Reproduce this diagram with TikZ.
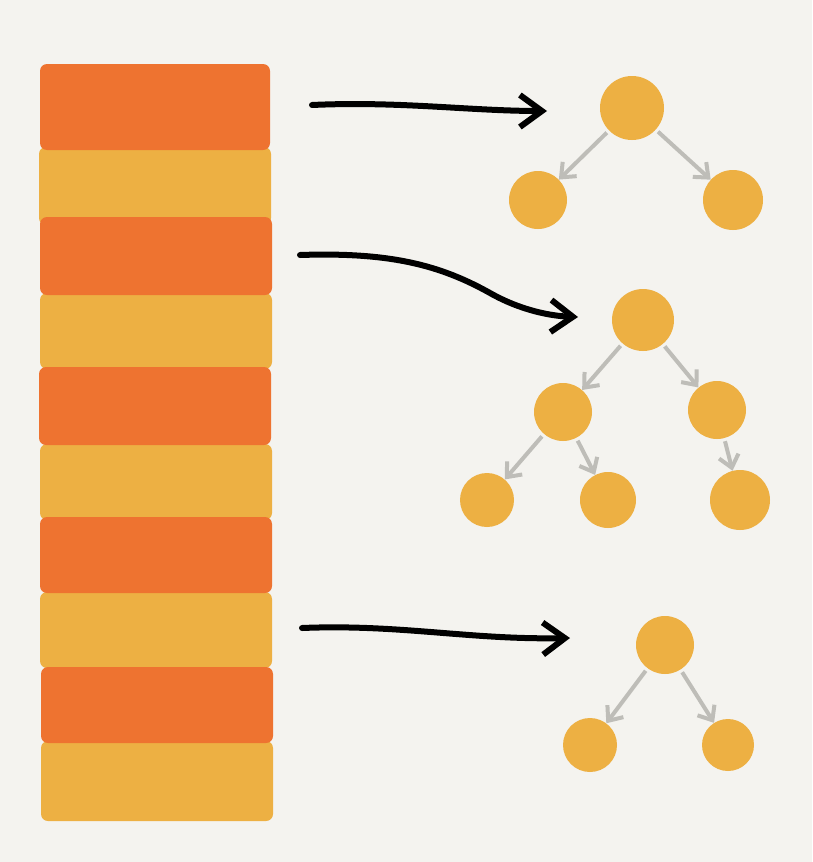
\documentclass[tikz,border=0pt]{standalone}
\usetikzlibrary{arrows.meta}
\definecolor{bg}{HTML}{F4F3EF}
\definecolor{org}{HTML}{EE7330}
\definecolor{yel}{HTML}{EDB043}
\definecolor{edgegray}{HTML}{BEBDB8}
\tikzset{
  stripe/.style={rectangle, rounded corners=7pt, inner sep=0pt, minimum width=232pt},
  ostripe/.style={stripe, fill=org, minimum height=80pt},
  ystripe/.style={stripe, fill=yel, minimum height=76pt},
  dot/.style={circle, fill=yel, inner sep=0pt},
  bigarrow/.style={line width=6pt, line cap=round, black, -{Straight Barb[length=22pt,width=32pt,line width=6pt]}},
  treearrow/.style={line width=4pt, edgegray, shorten <=3pt, -{Straight Barb[length=12pt,width=20pt,line width=4pt]}}
}
\begin{document}
\begin{tikzpicture}[x=1pt,y=-1pt]
\fill[bg] (0,0) rectangle (812,862);
\useasboundingbox (0,0) rectangle (812,862);
% stripes (yellow first, orange on top)
\node[ystripe, minimum height=78pt] (y1) at (155,186) {};
\node[ystripe] (y2) at (156,331) {};
\node[ystripe] (y3) at (156,482) {};
\node[ystripe] (y4) at (156,630) {};
\node[ystripe, minimum height=80pt] (y5) at (157,781) {};
\node[ostripe, minimum height=86pt, minimum width=230pt] (o1) at (155,107) {};
\node[ostripe, minimum height=78pt] (o2) at (156,256) {};
\node[ostripe, minimum height=78pt] (o3) at (155,406) {};
\node[ostripe, minimum height=76pt] (o4) at (156,555) {};
\node[ostripe, minimum height=76pt] (o5) at (157,705) {};
% tree 1
\node[dot, minimum size=64pt] (a) at (632,108) {};
\node[dot, minimum size=58pt] (a1) at (538,200) {};
\node[dot, minimum size=60pt] (a2) at (733,200) {};
% tree 2
\node[dot, minimum size=62pt] (b) at (643,320) {};
\node[dot, minimum size=58pt] (b1) at (563,412) {};
\node[dot, minimum size=58pt] (b2) at (717,410) {};
\node[dot, minimum size=54pt] (b11) at (487,500) {};
\node[dot, minimum size=56pt] (b12) at (608,500) {};
\node[dot, minimum size=60pt] (b21) at (740,500) {};
% tree 3
\node[dot, minimum size=58pt] (c) at (665,645) {};
\node[dot, minimum size=54pt] (c1) at (590,745) {};
\node[dot, minimum size=52pt] (c2) at (728,745) {};
% tree edges
\draw[treearrow] (a) -- (a1);
\draw[treearrow] (a) -- (a2);
\draw[treearrow] (b) -- (b1);
\draw[treearrow] (b) -- (b2);
\draw[treearrow] (b1) -- (b11);
\draw[treearrow] (b1) -- (b12);
\draw[treearrow] (b2) -- (b21);
\draw[treearrow] (c) -- (c1);
\draw[treearrow] (c) -- (c2);
% big arrows
\coordinate (s1) at (312,105);
\coordinate (e1) at (547,111);
\coordinate (s2) at (300,255);
\coordinate (e2) at (578,317);
\coordinate (s3) at (302,628);
\coordinate (e3) at (570,638);
\draw[bigarrow] (s1) .. controls (400,101) and (470,111) .. (e1);
\draw[bigarrow] (s2) .. controls (390,252) and (440,265) .. (490,293) .. controls (520,310) and (550,316) .. (e2);
\draw[bigarrow] (s3) .. controls (400,624) and (470,640) .. (e3);
\end{tikzpicture}
\end{document}
